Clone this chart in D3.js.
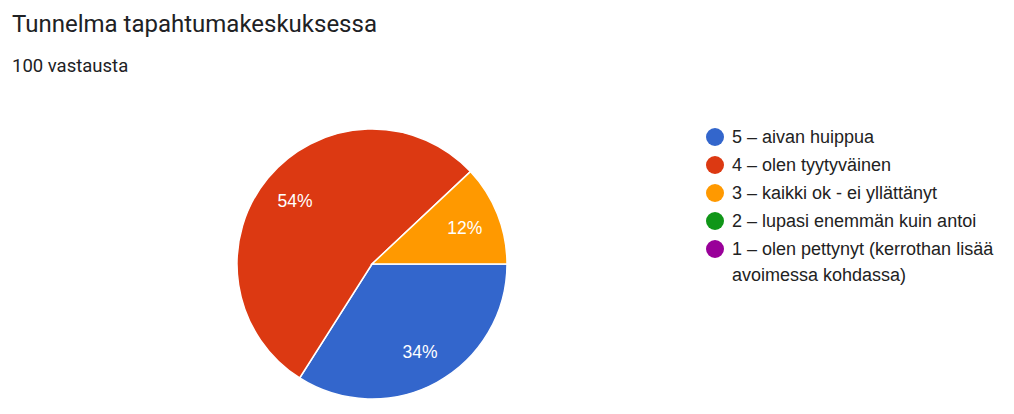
<!DOCTYPE html>
<html><head><meta charset="utf-8">
<script src="https://cdn.jsdelivr.net/npm/d3@7"></script>
<style>body{margin:0;background:#fff;}svg{display:block;}</style>
</head><body>
<script>
const categories = ["5 – aivan huippua", "4 – olen tyytyväinen", "3 – kaikki ok - ei yllättänyt", "2 – lupasi enemmän kuin antoi", "1 – olen pettynyt (kerrothan lisää avoimessa kohdassa)"];
const legendLines = [["5 – aivan huippua"], ["4 – olen tyytyväinen"], ["3 – kaikki ok - ei yllättänyt"], ["2 – lupasi enemmän kuin antoi"], ["1 – olen pettynyt (kerrothan lisää", "avoimessa kohdassa)"]];
const values = [34, 54, 12, 0, 0];
const colors = ["#3366cc", "#dc3912", "#ff9900", "#109618", "#990099"];
const title = "Tunnelma tapahtumakeskuksessa";
const subtitle = "100 vastausta";

const W = 1014, H = 414;
const svg = d3.select("body").append("svg").attr("width", W).attr("height", H);

svg.append("text").attr("x", 12).attr("y", 32)
  .attr("font-family", "Roboto, 'Open Sans', sans-serif").attr("font-size", 24)
  .attr("fill", "#202124").text(title);
svg.append("text").attr("x", 12).attr("y", 72)
  .attr("font-family", "Roboto, sans-serif").attr("font-size", 18.5)
  .attr("fill", "#202124").text(subtitle);

const cx = 372, cy = 264, R = 135;
const total = d3.sum(values);
const pie = d3.pie().sort(null).value(d => d)
  .startAngle(Math.PI / 2).endAngle(Math.PI / 2 + 2 * Math.PI);
const arcs = pie(values);
const arc = d3.arc().innerRadius(0).outerRadius(R);
const labelArc = d3.arc().innerRadius(R * 0.74).outerRadius(R * 0.74);
const g = svg.append("g").attr("transform", `translate(${cx},${cy})`);
g.selectAll("path").data(arcs.filter(d => d.value > 0)).join("path")
  .attr("d", arc).attr("fill", d => colors[d.index])
  .attr("stroke", "#fff").attr("stroke-width", 1.5);
g.selectAll("text").data(arcs.filter(d => d.value > 0)).join("text")
  .attr("transform", d => `translate(${labelArc.centroid(d)})`)
  .attr("text-anchor", "middle").attr("dy", "0.36em")
  .attr("font-family", "'Liberation Sans', Arial, sans-serif").attr("font-size", 17.5)
  .attr("fill", "#fff")
  .text(d => Math.round(d.value / total * 100) + "%");

const lg = svg.append("g");
const rowY = d3.scalePoint().domain(d3.range(categories.length)).range([137, 249]);
categories.forEach((c, i) => {
  const y = rowY(i);
  lg.append("circle").attr("cx", 715).attr("cy", y).attr("r", 9).attr("fill", colors[i]);
  const t = lg.append("text").attr("x", 732).attr("y", y).attr("dy", "0.36em")
    .attr("font-family", "'Liberation Sans', Arial, sans-serif").attr("font-size", 18)
    .attr("fill", "#222");
  legendLines[i].forEach((ln, j) => {
    t.append("tspan").attr("x", 732).attr("dy", j === 0 ? "0.36em" : 26).text(ln);
  });
});
</script>
</body></html>
